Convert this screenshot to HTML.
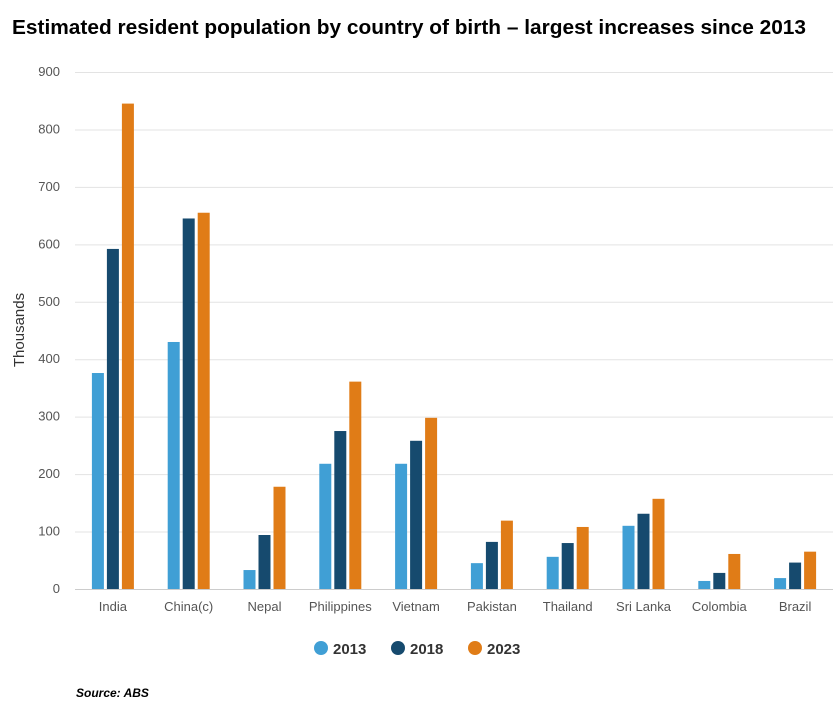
<!DOCTYPE html>
<html><head><meta charset="utf-8"><style>
body{margin:0;background:#fff;width:835px;height:704px;overflow:hidden}
svg text{font-family:"Liberation Sans",sans-serif}
</style></head><body>
<svg width="835" height="704" xmlns="http://www.w3.org/2000/svg">
<text x="12" y="34" font-size="20" font-weight="bold" fill="#000" textLength="794" lengthAdjust="spacingAndGlyphs">Estimated resident population by country of birth – largest increases since 2013</text>
<g id="grid" stroke="#e3e3e3" stroke-width="1"></g>
<g id="bars"></g>
<g id="labels" font-size="13" fill="#555"></g>
<text transform="translate(24,330) rotate(-90)" text-anchor="middle" font-size="15" fill="#333">Thousands</text>
<g font-size="15" fill="#333" font-weight="bold">
<circle cx="321" cy="648" r="7" fill="#409fd5"/><text x="333" y="654">2013</text>
<circle cx="398" cy="648" r="7" fill="#164a6e"/><text x="410" y="654">2018</text>
<circle cx="475" cy="648" r="7" fill="#e07c17"/><text x="487" y="654">2023</text>
</g>
<text x="76" y="697" font-size="12" font-weight="bold" font-style="italic" fill="#000">Source: ABS</text>
<script>
const ns="http://www.w3.org/2000/svg";
function el(p,t,a,txt){const e=document.createElementNS(ns,t);for(const k in a)e.setAttribute(k,a[k]);if(txt!=null)e.textContent=txt;document.getElementById(p).appendChild(e);}
const y0=589,s=(589-72)/900;
for(let v=0;v<=900;v+=100){const y=y0-v*s;el('grid','line',{x1:75,x2:833,y1:y+0.5,y2:y+0.5,stroke:v==0?'#ccc':'#e3e3e3'});el('labels','text',{x:60,y:y+4,'text-anchor':'end'},v);}
const d=[["India",376,592,845],["China(c)",430,645,655],["Nepal",33,94,178],["Philippines",218,275,361],["Vietnam",218,258,298],["Pakistan",45,82,119],["Thailand",56,80,108],["Sri Lanka",110,131,157],["Colombia",14,28,61],["Brazil",19,46,65]];
const c=["#409fd5","#164a6e","#e07c17"];
d.forEach((r,i)=>{const cx=75+75.8*(i+0.5);for(let j=0;j<3;j++){const h=r[j+1]*s;el('bars','rect',{x:cx-21+j*15,y:y0-h,width:12,height:h,fill:c[j]});}
el('labels','text',{x:cx,y:611,'text-anchor':'middle'},r[0]);});
</script>
</svg>
</body></html>
